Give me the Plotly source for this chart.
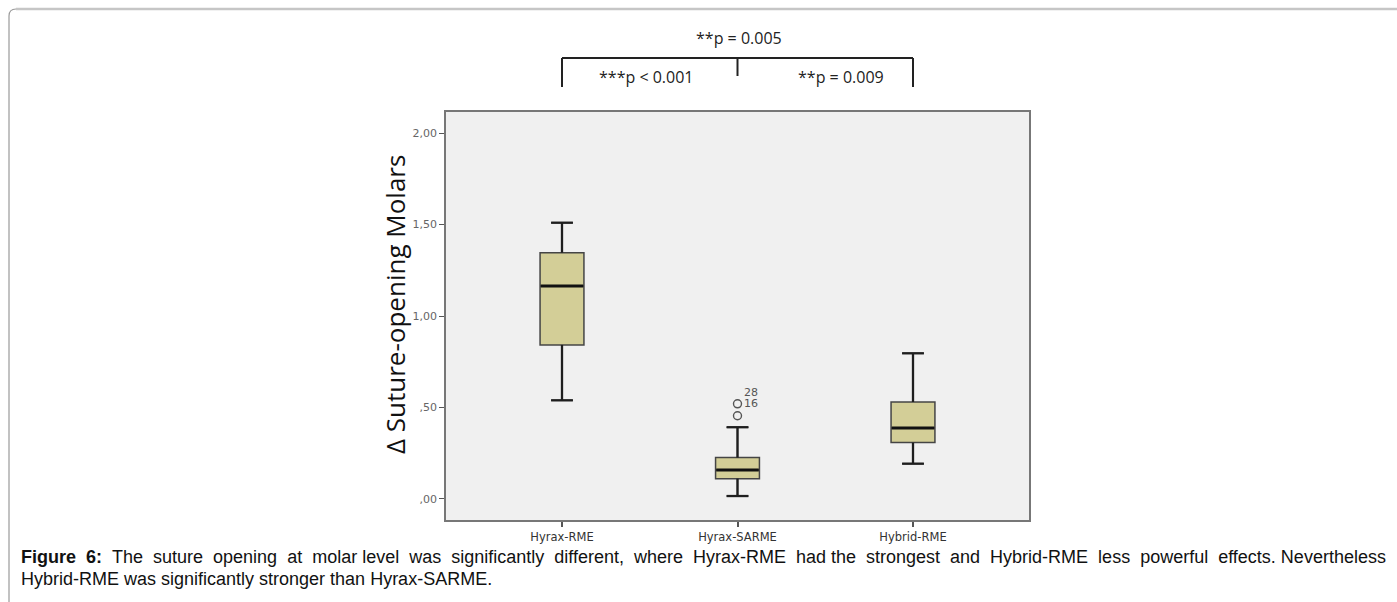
import plotly.graph_objects as go

# ---- data -------------------------------------------------------------
groups = ["Hyrax-RME", "Hyrax-SARME", "Hybrid-RME"]
q1 = [0.842, 0.111, 0.308]
median = [1.164, 0.158, 0.388]
q3 = [1.346, 0.226, 0.530]
lower_whisker = [0.539, 0.016, 0.193]
upper_whisker = [1.510, 0.392, 0.796]

outlier_group = [1, 1]
outlier_values = [0.520, 0.455]
outlier_labels = ["28", "16"]

y_ticks = [0.0, 0.5, 1.0, 1.5, 2.0]
y_tick_labels = [",00", ",50", "1,00", "1,50", "2,00"]

comparisons = [  # (left group, right group, label)
    (0, 1, "***p < 0.001"),
    (1, 2, "**p = 0.009"),
    (0, 2, "**p = 0.005"),
]

caption_line1 = ("<b>Figure 6:</b> The suture opening at molar level was significantly different, "
                 "where Hyrax-RME had the strongest and Hybrid-RME less powerful effects. Nevertheless")
caption_line2 = "Hybrid-RME was significantly stronger than Hyrax-SARME."

# ---- layout geometry (pixels) ------------------------------------------
W, H = 1397, 602
ML, MR, MT, MB = 446, 368, 112, 82
PW, PH = W - ML - MR, H - MT - MB


def px(xp):
    return (xp - ML) / PW


def py(yp):
    return (H - MB - yp) / PH


BOX_W = 0.25
CAP = 0.062
xs = list(range(len(groups)))

fig = go.Figure()

fig.add_trace(go.Box(
    x=xs, q1=q1, median=median, q3=q3,
    lowerfence=lower_whisker, upperfence=upper_whisker,
    width=BOX_W, whiskerwidth=0.5,
    fillcolor="#d3ce97", line=dict(color="#454545", width=1.5),
    boxpoints=False, showlegend=False, hoverinfo="skip",
))

# whiskers drawn heavier than the box outline
wx, wy = [], []
for i in xs:
    wx += [i, i, None, i, i, None,
           i - CAP, i + CAP, None, i - CAP, i + CAP, None]
    wy += [q3[i], upper_whisker[i], None, q1[i], lower_whisker[i], None,
           upper_whisker[i], upper_whisker[i], None, lower_whisker[i], lower_whisker[i], None]
fig.add_trace(go.Scatter(x=wx, y=wy, mode="lines", line=dict(color="#1e1e1e", width=2.3),
                         showlegend=False, hoverinfo="skip"))

# median bars
mx, my = [], []
for i in xs:
    mx += [i - BOX_W / 2 + 0.004, i + BOX_W / 2 - 0.004, None]
    my += [median[i], median[i], None]
fig.add_trace(go.Scatter(x=mx, y=my, mode="lines", line=dict(color="#111111", width=3),
                         showlegend=False, hoverinfo="skip"))

# outliers
fig.add_trace(go.Scatter(
    x=outlier_group, y=outlier_values, mode="markers",
    marker=dict(symbol="circle-open", size=8, color="#555555", line=dict(width=1.4)),
    showlegend=False, hoverinfo="skip",
))

annotations = []
# case numbers beside the upper outlier
top_out = max(outlier_values)
for k, lab in enumerate(outlier_labels):
    annotations.append(dict(
        x=outlier_group[0] + 0.024, y=top_out, xref="x", yref="y",
        text=lab, showarrow=False, xanchor="left", yanchor="middle",
        yshift=11 - 11 * k, font=dict(family="DejaVu Sans", size=11, color="#555555"),
    ))

# y-axis title
annotations.append(dict(
    x=px(395), y=py(305), xref="paper", yref="paper", text="Δ Suture-opening Molars",
    textangle=-90, showarrow=False, xanchor="center", yanchor="middle",
    font=dict(family="Open Sans", size=26, color="#111111"),
))

# significance brackets
shapes = []
bracket_line = dict(color="#222222", width=2)
y_bar = py(58)
y_outer = py(87)
y_mid = py(76)
shapes.append(dict(type="line", xref="x", yref="paper", x0=0, x1=2, y0=y_bar, y1=y_bar, line=bracket_line))
shapes.append(dict(type="line", xref="x", yref="paper", x0=0, x1=0, y0=y_bar, y1=y_outer, line=bracket_line))
shapes.append(dict(type="line", xref="x", yref="paper", x0=2, x1=2, y0=y_bar, y1=y_outer, line=bracket_line))
shapes.append(dict(type="line", xref="x", yref="paper", x0=1, x1=1, y0=y_bar, y1=y_mid, line=bracket_line))

pfont = dict(family="Open Sans", size=16, color="#222222")
for a, b, lab in comparisons:
    if b - a == 1:
        xc = (a + b) / 2 + (-0.02 if a == 0 else 0.09)
        yc = py(77)
    else:
        xc = (a + b) / 2 + 0.01
        yc = py(38)
    annotations.append(dict(x=xc, y=yc, xref="x", yref="paper", text=lab, showarrow=False,
                            xanchor="center", yanchor="middle", font=pfont))

# figure frame
shapes.append(dict(type="path", xref="paper", yref="paper",
                   path=f"M {px(9)},{py(602)} L {px(9)},{py(16)} Q {px(9)},{py(9)} {px(16)},{py(9)}",
                   line=dict(color="#9a9a9a", width=1.2)))
shapes.append(dict(type="line", xref="paper", yref="paper", x0=px(16), x1=px(1397),
                   y0=py(9), y1=py(9), line=dict(color="#c6c6c6", width=2.5)))

# caption; the first line is spread to the full width with extra spaces,
# spread evenly over the word gaps
words = caption_line1.split(" ")
line1 = words[0]
for g, w in enumerate(words[1:]):
    line1 += (" " if g % 7 == 6 else " \u00a0") + w
cfont = dict(family="Liberation Sans", size=18, color="#111111")
annotations.append(dict(x=px(19), y=py(557), xref="paper", yref="paper", text=line1,
                        showarrow=False, xanchor="left", yanchor="middle", font=cfont))
annotations.append(dict(x=px(19), y=py(579), xref="paper", yref="paper", text=caption_line2,
                        showarrow=False, xanchor="left", yanchor="middle", font=cfont))

fig.update_layout(
    width=W, height=H,
    margin=dict(l=ML, r=MR, t=MT, b=MB, pad=0),
    paper_bgcolor="white", plot_bgcolor="#f0f0f0",
    shapes=shapes, annotations=annotations,
    xaxis=dict(range=[-0.661, 2.661], tickvals=xs, ticktext=groups, ticks="outside", ticklen=5,
               tickcolor="#555555", tickwidth=1.5, showgrid=False, zeroline=False,
               showline=True, linecolor="#777777", linewidth=1.5, mirror=True,
               tickfont=dict(family="DejaVu Sans", size=11.5, color="#333333")),
    yaxis=dict(range=[-0.115, 2.115], tickvals=y_ticks, ticktext=y_tick_labels, ticks="outside",
               ticklen=5, tickcolor="#555555", tickwidth=1.2, showgrid=False, zeroline=False,
               showline=True, linecolor="#777777", linewidth=1.5, mirror=True,
               tickfont=dict(family="DejaVu Sans", size=11, color="#666666")),
)

fig.write_html("out.html")
